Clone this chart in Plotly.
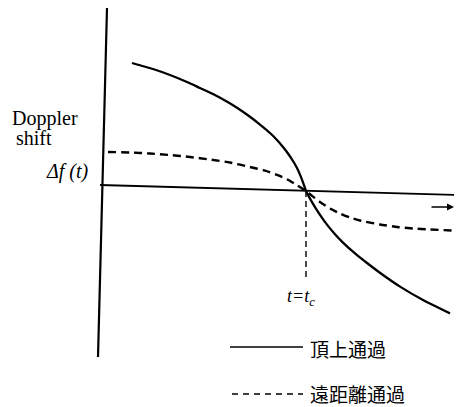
import plotly.graph_objects as go

# Data (time relative to closest approach t_c, Doppler shift in arbitrary units)
t_overhead = [-1.74, -1.53, -1.36, -1.19, -1.06, -0.93, -0.81, -0.69, -0.56, -0.46,
              -0.36, -0.29, -0.23, -0.18, -0.13, -0.09, -0.06, -0.03, 0.0,
              0.04, 0.09, 0.14, 0.21, 0.29, 0.37, 0.49, 0.61, 0.77, 0.94, 1.17, 1.44]
f_overhead = [1.28, 1.22, 1.16, 1.09, 1.03, 0.97, 0.905, 0.833, 0.742, 0.664,
              0.58, 0.51, 0.44, 0.375, 0.30, 0.23, 0.164, 0.086, 0.0,
              -0.076, -0.161, -0.238, -0.336, -0.432, -0.516, -0.624, -0.72, -0.84, -0.956, -1.09, -1.224]

t_distant = [-1.98, -1.76, -1.56, -1.36, -1.16, -0.96, -0.76, -0.56, -0.41, -0.29,
             -0.19, -0.09, 0.0, 0.07, 0.14, 0.24, 0.34, 0.44, 0.54, 0.74,
             0.91, 1.07, 1.24, 1.47]
f_distant = [0.39, 0.385, 0.375, 0.36, 0.34, 0.315, 0.285, 0.24, 0.203, 0.162,
             0.117, 0.057, 0.0, -0.056, -0.11, -0.175, -0.225, -0.265, -0.295, -0.335,
             -0.36, -0.375, -0.385, -0.395]

legend_labels = ["頂上通過", "遠距離通過"]
y_label = ["Doppler", "shift"]
f_label = "Δf (t)"
tc_label = "t=t<sub>c</sub>"

W, H = 462, 407
OFF = 8  # page body margin in the browser
X0PX, Y0PX = 306, 191
SX, SY = 100.0, 100.0

def dx(px):
    return (px - X0PX) / SX

def dy(py):
    return (Y0PX - py) / SY

xr = [dx(OFF), dx(W + OFF)]
yr = [dy(H + OFF), dy(OFF)]

fig = go.Figure()
fig.add_trace(go.Scatter(x=t_overhead, y=f_overhead, mode="lines",
                         line=dict(color="black", width=2.3, shape="spline", smoothing=0.5),
                         showlegend=False, hoverinfo="skip"))
fig.add_trace(go.Scatter(x=t_distant, y=f_distant, mode="lines",
                         line=dict(color="black", width=2.4, shape="spline", smoothing=0.5,
                                   dash="8px,5px"),
                         showlegend=False, hoverinfo="skip"))

shapes = []
# vertical axis (slightly tilted as in scan)
shapes.append(dict(type="line", x0=dx(107), y0=dy(8), x1=dx(98), y1=dy(357),
                   line=dict(color="black", width=2.2)))
# horizontal axis
shapes.append(dict(type="line", x0=dx(100), y0=dy(185), x1=dx(462), y1=dy(195),
                   line=dict(color="black", width=1.8)))
# vertical dashed line at t = t_c
shapes.append(dict(type="line", x0=0, y0=0, x1=0, y1=dy(281),
                   line=dict(color="black", width=1.4, dash="6px,4px")))
# legend samples
shapes.append(dict(type="line", x0=dx(230), y0=dy(347), x1=dx(303), y1=dy(347),
                   line=dict(color="black", width=1.6)))
shapes.append(dict(type="line", x0=dx(232), y0=dy(394), x1=dx(303), y1=dy(394),
                   line=dict(color="black", width=1.6, dash="6px,5px")))

serif = "Liberation Serif, DejaVu Serif, serif"
cjk = "Noto Sans CJK JP, Noto Sans CJK SC, sans-serif"
ann = []
ann.append(dict(x=dx(10), y=dy(118), text=y_label[0], showarrow=False, xanchor="left",
                yanchor="middle", font=dict(family=serif, size=20, color="black")))
ann.append(dict(x=dx(14), y=dy(138), text=y_label[1], showarrow=False, xanchor="left",
                yanchor="middle", font=dict(family=serif, size=20, color="black")))
ann.append(dict(x=dx(44), y=dy(171), text="<i>" + f_label + "</i>", showarrow=False,
                xanchor="left", yanchor="middle", font=dict(family=serif, size=20, color="black")))
ann.append(dict(x=dx(301), y=dy(297), text="<i>" + tc_label + "</i>", showarrow=False,
                xanchor="center", yanchor="middle", font=dict(family=serif, size=18, color="black")))
ann.append(dict(x=dx(308), y=dy(348), text=legend_labels[0], showarrow=False, xanchor="left",
                yanchor="middle", font=dict(family=cjk, size=19, color="black")))
ann.append(dict(x=dx(308), y=dy(393), text=legend_labels[1], showarrow=False, xanchor="left",
                yanchor="middle", font=dict(family=cjk, size=19, color="black")))
# arrow indicating time direction
ann.append(dict(x=dx(454), y=dy(207), ax=dx(430), ay=dy(207), axref="x", ayref="y",
                text="", showarrow=True, arrowhead=2, arrowsize=1, arrowwidth=1.4,
                arrowcolor="black"))
ann.append(dict(x=dx(457), y=dy(207), text="<i>t</i>", showarrow=False, xanchor="left",
                yanchor="middle", font=dict(family=serif, size=18, color="black")))

fig.update_layout(
    width=W, height=H,
    margin=dict(l=0, r=0, t=0, b=0),
    paper_bgcolor="white", plot_bgcolor="white",
    xaxis=dict(range=xr, visible=False, fixedrange=True),
    yaxis=dict(range=yr, visible=False, fixedrange=True),
    shapes=shapes, annotations=ann,
)
fig.write_html("out.html")
